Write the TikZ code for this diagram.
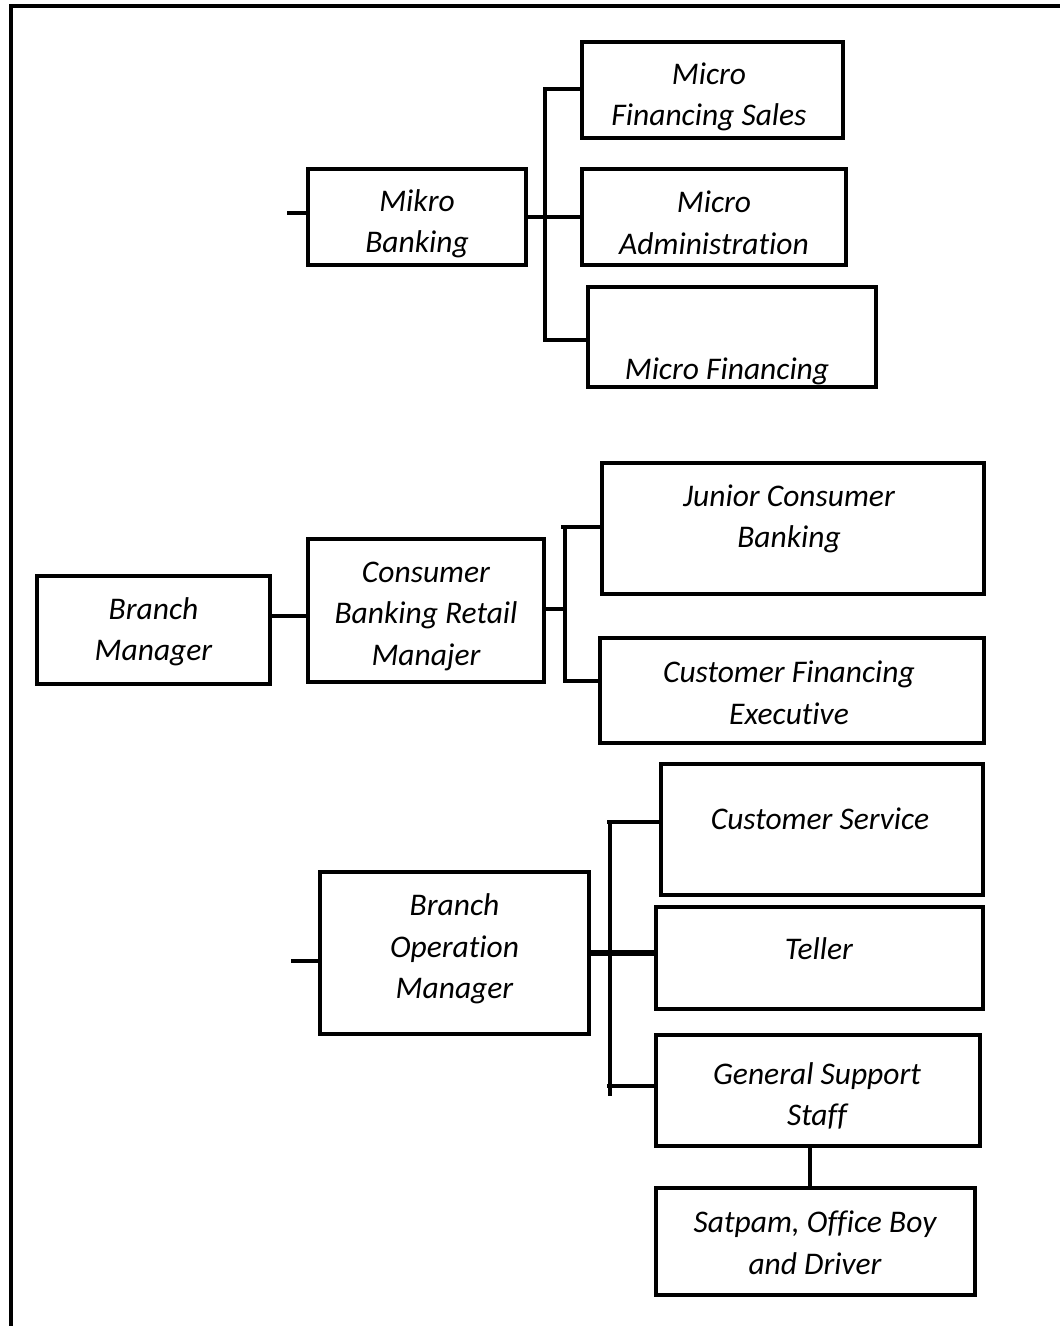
\documentclass[tikz,border=0pt]{standalone}
\usepackage{fontspec}
\setmainfont{Carlito}[Ligatures=NoCommon]
\usetikzlibrary{positioning}

\tikzset{
  box/.style={draw,line width=3.5pt,inner sep=0pt},
  txt/.style={align=center,inner sep=0pt,font=\fontsize{31.5pt}{41.5pt}\selectfont\itshape},
  link/.style={line width=3.5pt}
}

\begin{document}
\begin{tikzpicture}[x=1pt,y=-1pt]
              \useasboundingbox (0,0) rectangle (1060,1326);
              \draw[line width=4pt] (11,1326) -- (11,6) -- (1060,6);
              % micro banking
              \node[box,minimum width=218pt,minimum height=96pt](mb)at(417,217){};
              \node[txt](mbt)at(417,224){Mikro\\Banking};
              \node[box,minimum width=261pt,minimum height=96pt](mfs)at(712.5,90){};
              \node[txt](mfst)at(709,97){Micro\\Financing Sales};
              \node[box,minimum width=264pt,minimum height=96pt](ma)at(714,217){};
              \node[txt](mat)at(714,223){Micro\\Administration};
              \node[box,minimum width=288pt,minimum height=100pt](mf)at(732,337){};
              \node[txt](mft)at(727,371){Micro Financing};
              \coordinate (stubA) at (287,213);
              \coordinate (barAt) at (545,89);
              \coordinate (barAb) at (545,340);
              \draw[link](stubA)--(mb.west |- stubA);
              \draw[link](mb.east)--(ma.west);
              \draw[link](mfs.west |- barAt)--(barAt)--(barAb)--(mf.west |- barAb);
              % consumer banking
              \node[box,minimum width=233pt,minimum height=108pt](bm)at(153.5,630){};
              \node[txt](bmt)at(153.5,632){Branch\\Manager};
              \node[box,minimum width=236pt,minimum height=143pt](cb)at(426,610.5){};
              \node[txt](cbt)at(426,616){Consumer\\Banking Retail\\Manajer};
              \node[box,minimum width=382pt,minimum height=131pt](jc)at(793,528.5){};
              \node[txt](jct)at(789,519){Junior Consumer\\ Banking};
              \node[box,minimum width=384pt,minimum height=105pt](cf)at(792,690.5){};
              \node[txt](cft)at(789,693){Customer Financing\\ Executive};
              \coordinate (barBt) at (565,527);
              \coordinate (barBb) at (565,681);
              \draw[link](bm.east |- 0,616)--(cb.west |- 0,616);
              \draw[link](cb.east |- 0,609)--(barBt |- 0,609);
              \draw[link](jc.west |- barBt)--([xshift=-4pt]barBt)--(barBt)--(barBb)--(cf.west |- barBb);
              % branch operation
              \node[box,minimum width=269pt,minimum height=162pt](bo)at(454.5,953){};
              \node[txt](bot)at(454.5,949){Branch\\Operation\\Manager};
              \node[box,minimum width=322pt,minimum height=131pt](cs)at(822,829.5){};
              \node[txt](cst)at(820,819){Customer Service};
              \node[box,minimum width=327pt,minimum height=102pt](te)at(819.5,958){};
              \node[txt](tet)at(819,949){Teller};
              \node[box,minimum width=324pt,minimum height=111pt](gs)at(818,1090.5){};
              \node[txt](gst)at(817,1096){General Support\\Staff};
              \node[box,minimum width=319pt,minimum height=107pt](sa)at(815.5,1241.5){};
              \node[txt](sat)at(815,1243){Satpam, Office Boy\\and Driver};
              \coordinate (stubC) at (291,961);
              \coordinate (barCt) at (610,822);
              \coordinate (barCb) at (610,1096);
              \draw[link](stubC)--(bo.west |- stubC);
              \draw[line width=5.5pt](bo.east)--(te.west |- bo.east);
              \draw[link](cs.west |- barCt)--([xshift=-3pt]barCt);
              \draw[link](gs.west |- 0,1086)--(607,1086);
              \draw[link](barCt)--(barCb);
              \draw[link](gs.south -| 810,0)--(sa.north -| 810,0);
            \end{tikzpicture}
\end{document}
